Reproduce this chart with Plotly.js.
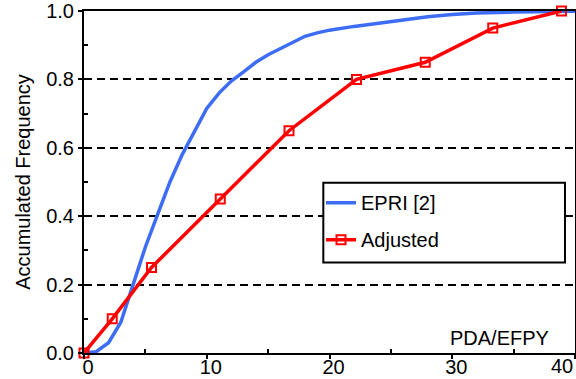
<!DOCTYPE html>
<html>
<head>
<meta charset="utf-8">
<script src="https://cdn.plot.ly/plotly-3.0.1.min.js"></script>
<style>html,body{margin:0;padding:0;background:#fff;}#chart{width:576px;height:379px;}</style>
</head>
<body>
<div id="chart"></div>
<script>
// EPRI [2] curve
const epriX = [0, 1, 2, 3, 4, 5, 6, 7, 8, 9, 10, 11, 12, 13, 14, 15, 16, 17, 18, 19, 20, 22, 24, 26, 28, 30, 32, 35, 40];
const epriY = [0, 0.004, 0.03, 0.09, 0.20, 0.31, 0.405, 0.50, 0.58, 0.65, 0.715, 0.76, 0.795, 0.822, 0.85, 0.872, 0.89, 0.91, 0.926, 0.936, 0.944, 0.955, 0.965, 0.975, 0.983, 0.99, 0.994, 0.997, 0.999];
// Adjusted curve
const adjX = [0, 2.3, 5.5, 11.1, 16.7, 22.2, 27.8, 33.3, 38.9];
const adjY = [0, 0.10, 0.25, 0.45, 0.65, 0.80, 0.85, 0.95, 1.0];
// Ticks
const xTickVals = [0, 10, 20, 30, 40];
const xTickText = ['0', '10', '20', '30', ''];
const xMinorVals = [5, 15, 25, 35];
const yTickVals = [0, 0.2, 0.4, 0.6, 0.8, 1.0];
const yTickText = ['0.0', '0.2', '0.4', '0.6', '0.8', '1.0'];
const yMinorVals = [0.1, 0.3, 0.5, 0.7, 0.9];

const FONT = 'Arial, "Liberation Sans", sans-serif';

const traces = [
  {
    x: epriX, y: epriY, type: 'scatter', mode: 'lines', name: 'EPRI [2]',
    legendgroup: 'a', cliponaxis: false,
    line: {color: '#3d6df5', width: 3.5}
  },
  {
    x: adjX, y: adjY, type: 'scatter', mode: 'lines+markers', name: 'Adjusted',
    legendgroup: 'b', cliponaxis: false,
    line: {color: '#ff0000', width: 3.5},
    marker: {symbol: 'square-open', size: 9, color: '#ff0000', line: {color: '#ff0000', width: 2}}
  }
];

const layout = {
  width: 576, height: 379,
  margin: {l: 84, r: 1, t: 11, b: 26, pad: 0},
  paper_bgcolor: '#fff', plot_bgcolor: '#fff',
  font: {family: FONT, size: 20, color: '#000'},
  showlegend: true,
  xaxis: {
    range: [0, 40], tickmode: 'array', tickvals: xTickVals, ticktext: xTickText,
    ticks: 'outside', ticklen: 4, tickwidth: 2, tickcolor: '#000',
    showline: true, linewidth: 2, linecolor: '#000', mirror: true,
    showgrid: false, zeroline: false, ticklabelshift: 4, ticklabelstandoff: -9,
    tickfont: {family: FONT, size: 20, color: '#000'},
    minor: {tickmode: 'array', tickvals: xMinorVals, ticks: 'inside', ticklen: 4, tickwidth: 2, tickcolor: '#000', showgrid: false}
  },
  yaxis: {
    range: [0, 1], tickmode: 'array', tickvals: yTickVals, ticktext: yTickText,
    ticks: 'outside', ticklen: 4, tickwidth: 2, tickcolor: '#000',
    showline: true, linewidth: 2, linecolor: '#000', mirror: true,
    showgrid: true, gridcolor: '#000', gridwidth: 2, griddash: '8px,5px',
    zeroline: false,
    tickfont: {family: FONT, size: 20, color: '#000'},
    title: {text: 'Accumulated Frequency', font: {family: FONT, size: 20, color: '#000'}, standoff: 10},
    minor: {tickmode: 'array', tickvals: yMinorVals, ticks: 'inside', ticklen: 4, tickwidth: 2, tickcolor: '#000', showgrid: false}
  },
  legend: {
    x: 0.4827, y: 0.4966, xanchor: 'left', yanchor: 'top',
    bgcolor: 'rgba(0,0,0,0)', borderwidth: 0,
    font: {family: FONT, size: 20, color: '#000'},
    traceorder: 'grouped', tracegroupgap: 8
  },
  shapes: [{
    type: 'rect', xref: 'paper', yref: 'paper', layer: 'above',
    x0: 0.4874, x1: 0.9796, y0: 0.2646, y1: 0.4975,
    line: {color: '#000', width: 2}, fillcolor: '#fff'
  }],
  annotations: [
    {text: 'PDA/EFPY', xref: 'paper', yref: 'paper', x: 0.847, y: 0.044, xanchor: 'center', yanchor: 'middle', showarrow: false, font: {family: FONT, size: 20, color: '#000'}},
    {text: '40', xref: 'x', yref: 'paper', x: 40, y: 0, xanchor: 'right', yanchor: 'top', yshift: 0, showarrow: false, font: {family: FONT, size: 20, color: '#000'}}
  ]
};

Plotly.newPlot('chart', traces, layout, {displayModeBar: false, staticPlot: true});
</script>
</body>
</html>
